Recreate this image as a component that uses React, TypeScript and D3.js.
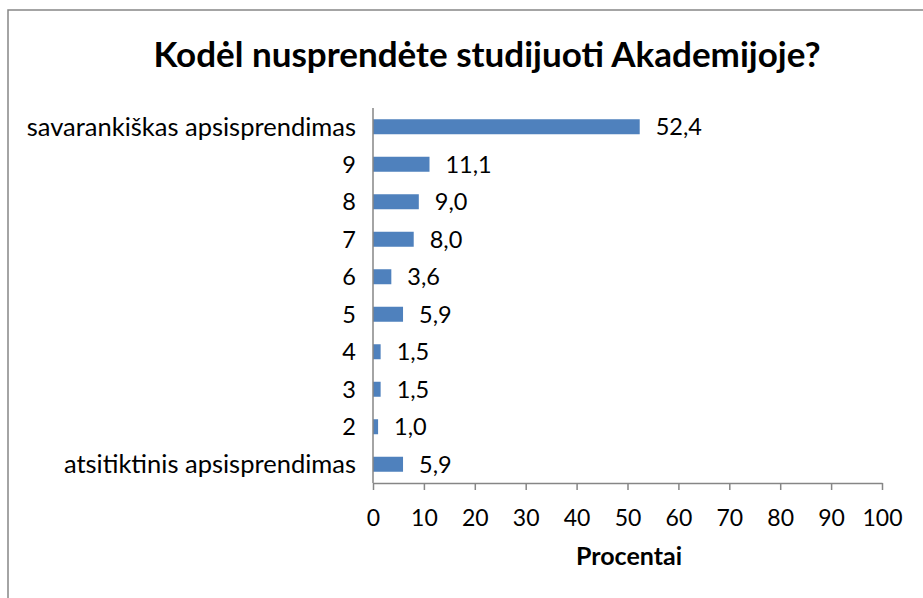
import React, { useEffect, useRef } from 'react'
import * as d3 from 'd3'

const categories = [
  'savarankiškas apsisprendimas',
  '9',
  '8',
  '7',
  '6',
  '5',
  '4',
  '3',
  '2',
  'atsitiktinis apsisprendimas',
]
const values = [52.4, 11.1, 9.0, 8.0, 3.6, 5.9, 1.5, 1.5, 1.0, 5.9]
const xTicks = [0, 10, 20, 30, 40, 50, 60, 70, 80, 90, 100]

const title = 'Kodėl nusprendėte studijuoti Akademijoje?'
const xTitle = 'Procentai'

const App = () => {
  const ref = useRef<SVGSVGElement>(null)

  useEffect(() => {
    const svg = d3.select(ref.current)
    svg.selectAll('*').remove()

    const width = 923
    const height = 598
    const font = 'Lato, "Open Sans", sans-serif'
    const axisColor = '#868686'

    svg.attr('width', width).attr('height', height)

    // chart frame
    svg
      .append('rect')
      .attr('x', 8)
      .attr('y', 10)
      .attr('width', width + 10)
      .attr('height', height + 10)
      .attr('fill', 'white')
      .attr('stroke', axisColor)
      .attr('stroke-width', 1.5)

    svg
      .append('text')
      .attr('x', 487)
      .attr('y', 67)
      .attr('text-anchor', 'middle')
      .style('font-family', font)
      .style('font-weight', 'bold')
      .style('font-size', '35px')
      .attr('fill', '#000')
      .text(title)

    const x = d3.scaleLinear().domain([0, 100]).range([373, 882])
    const y = d3.scaleBand().domain(categories).range([108, 483]).paddingInner(0.6).paddingOuter(0.3)

    // bars
    svg
      .append('g')
      .selectAll('rect')
      .data(values)
      .enter()
      .append('rect')
      .attr('x', x(0))
      .attr('y', (d, i) => y(categories[i]))
      .attr('width', (d) => x(d) - x(0))
      .attr('height', y.bandwidth())
      .attr('fill', '#4F81BD')

    // value labels
    svg
      .append('g')
      .selectAll('text')
      .data(values)
      .enter()
      .append('text')
      .attr('x', (d) => x(d) + 16)
      .attr('y', (d, i) => y(categories[i]) + y.bandwidth() / 2)
      .attr('dy', '0.36em')
      .style('font-family', font)
      .style('font-size', '23.5px')
      .attr('fill', '#000')
      .text((d) => d.toFixed(1).replace('.', ','))

    // category labels
    svg
      .append('g')
      .selectAll('text')
      .data(categories)
      .enter()
      .append('text')
      .attr('x', 356)
      .attr('y', (d) => y(d) + y.bandwidth() / 2)
      .attr('dy', '0.36em')
      .attr('text-anchor', 'end')
      .style('font-family', font)
      .style('font-size', (d) => (d.length > 2 ? '25.5px' : '23.5px'))
      .attr('fill', '#000')
      .text((d) => d)

    // y axis line
    svg
      .append('line')
      .attr('x1', x(0))
      .attr('x2', x(0))
      .attr('y1', 108)
      .attr('y2', 483)
      .attr('stroke', axisColor)
      .attr('stroke-width', 1.5)

    // x axis
    const xAxis = svg
      .append('g')
      .attr('transform', 'translate(0,483)')
      .call(d3.axisBottom(x).tickValues(xTicks).tickSize(7).tickSizeOuter(0).tickPadding(20))
    xAxis.select('.domain').attr('stroke', axisColor).attr('stroke-width', 1.5)
    xAxis.selectAll('.tick line').attr('stroke', axisColor).attr('stroke-width', 1.5)
    xAxis
      .selectAll('.tick text')
      .style('font-family', font)
      .style('font-size', '23px')
      .attr('fill', '#000')

    svg
      .append('text')
      .attr('x', 629)
      .attr('y', 565)
      .attr('text-anchor', 'middle')
      .style('font-family', font)
      .style('font-weight', 'bold')
      .style('font-size', '25px')
      .attr('fill', '#000')
      .text(xTitle)
  }, [])

  return <svg ref={ref} style={{ position: 'absolute', left: 0, top: 0 }}></svg>
}

export default App
